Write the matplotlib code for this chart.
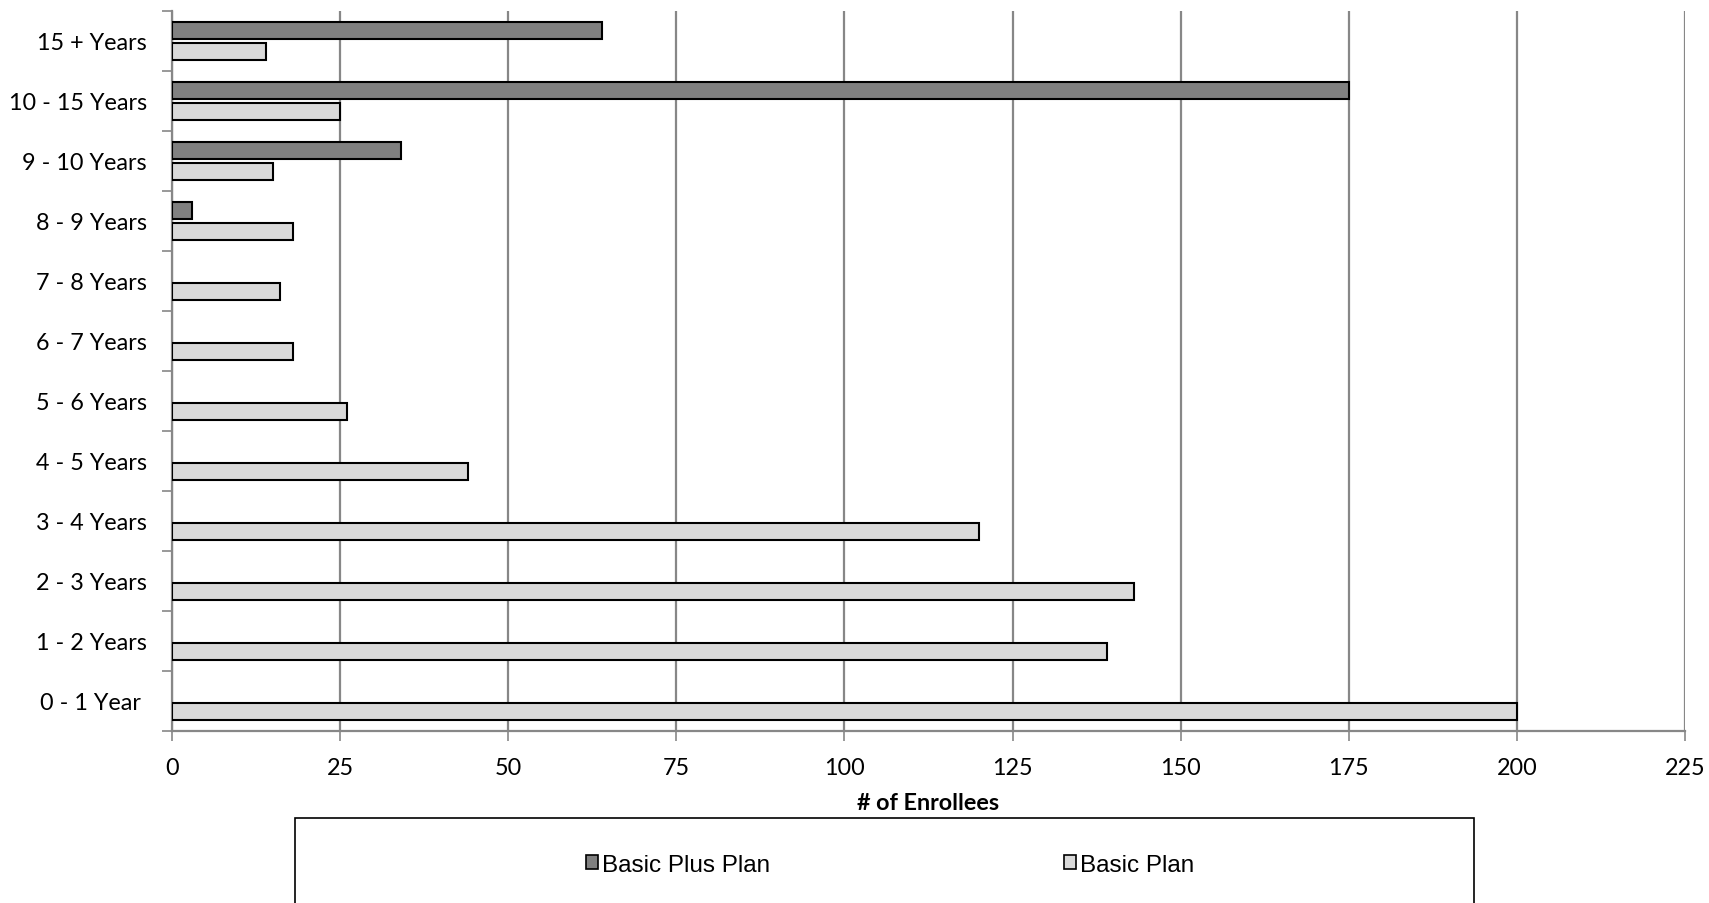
import matplotlib
matplotlib.use("Agg")
import matplotlib.pyplot as plt
from matplotlib.patches import Rectangle, Patch
import numpy as np

categories = ["0 - 1 Year ", "1 - 2 Years", "2 - 3 Years", "3 - 4 Years", "4 - 5 Years",
              "5 - 6 Years", "6 - 7 Years", "7 - 8 Years", "8 - 9 Years", "9 - 10 Years",
              "10 - 15 Years", "15 + Years"]
basic_plus = [0, 0, 0, 0, 0, 0, 0, 0, 3, 34, 175, 64]
basic = [200, 139, 143, 120, 44, 26, 18, 16, 18, 15, 25, 14]
x_ticks = [0, 25, 50, 75, 100, 125, 150, 175, 200, 225]

W, H = 1709, 904
fig = plt.figure(figsize=(W / 100, H / 100), dpi=100)
ax = fig.add_axes([172 / W, 1 - 732 / H, (1685 - 172) / W, (732 - 12) / H])

FONT = "Lato"
FS = 16.8

y = np.arange(len(categories))
h = 0.27
off = 0.175
grid_c = "#878787"
for i, v in enumerate(basic_plus):
    if v > 0:
        ax.barh(y[i] + off, v, height=h, color="#808080", edgecolor="black", linewidth=1.5, zorder=3)
ax.barh(y - off, basic, height=h, color="#d9d9d9", edgecolor="black", linewidth=1.5, zorder=3)

ax.set_xlim(0, 225)
ax.set_ylim(-0.5, len(categories) - 0.5)
ax.set_xticks(x_ticks)
ax.set_xticklabels([str(t) for t in x_ticks], fontsize=FS, family=FONT)
ax.xaxis.grid(True, color=grid_c, linewidth=1.6, zorder=0)
ax.set_axisbelow(True)

ax.set_yticks(np.arange(len(categories) + 1) - 0.5)
ax.set_yticklabels([])
ax.set_yticks(y, minor=True)
ax.set_yticklabels(categories, minor=True, fontsize=FS, family=FONT)
ax.tick_params(axis="y", which="minor", length=0, pad=18)
ax.tick_params(axis="y", which="major", length=7, width=1.2, color=grid_c, direction="out")
ax.tick_params(axis="x", length=7, width=1.2, color=grid_c, direction="out", pad=12)

for s in ["top", "right"]:
    ax.spines[s].set_visible(False)
for s in ["left", "bottom"]:
    ax.spines[s].set_color(grid_c)
    ax.spines[s].set_linewidth(1.6)

ax.set_xlabel("# of Enrollees", fontsize=FS, fontweight="bold", family=FONT, labelpad=10)

# legend box
fig.patches.append(Rectangle((295 / W, -0.05), (1474 - 295) / W, 0.05 + (904 - 819) / H,
                             transform=fig.transFigure, fill=False, edgecolor="black",
                             linewidth=1.2))
handles = [Patch(facecolor="#808080", edgecolor="black", linewidth=1.2, label="Basic Plus Plan"),
           Patch(facecolor="#d9d9d9", edgecolor="black", linewidth=1.2, label="Basic Plan")]
fig.legend(handles=handles, loc="center left", bbox_to_anchor=(586 / W, 1 - 866 / H), ncol=2,
           frameon=False, prop={"family": "Liberation Sans", "size": 17.5},
           handlelength=0.5, handleheight=0.5, handletextpad=0.15, borderaxespad=0,
           borderpad=0, columnspacing=12.1)

fig.savefig("out.png", dpi=100)
